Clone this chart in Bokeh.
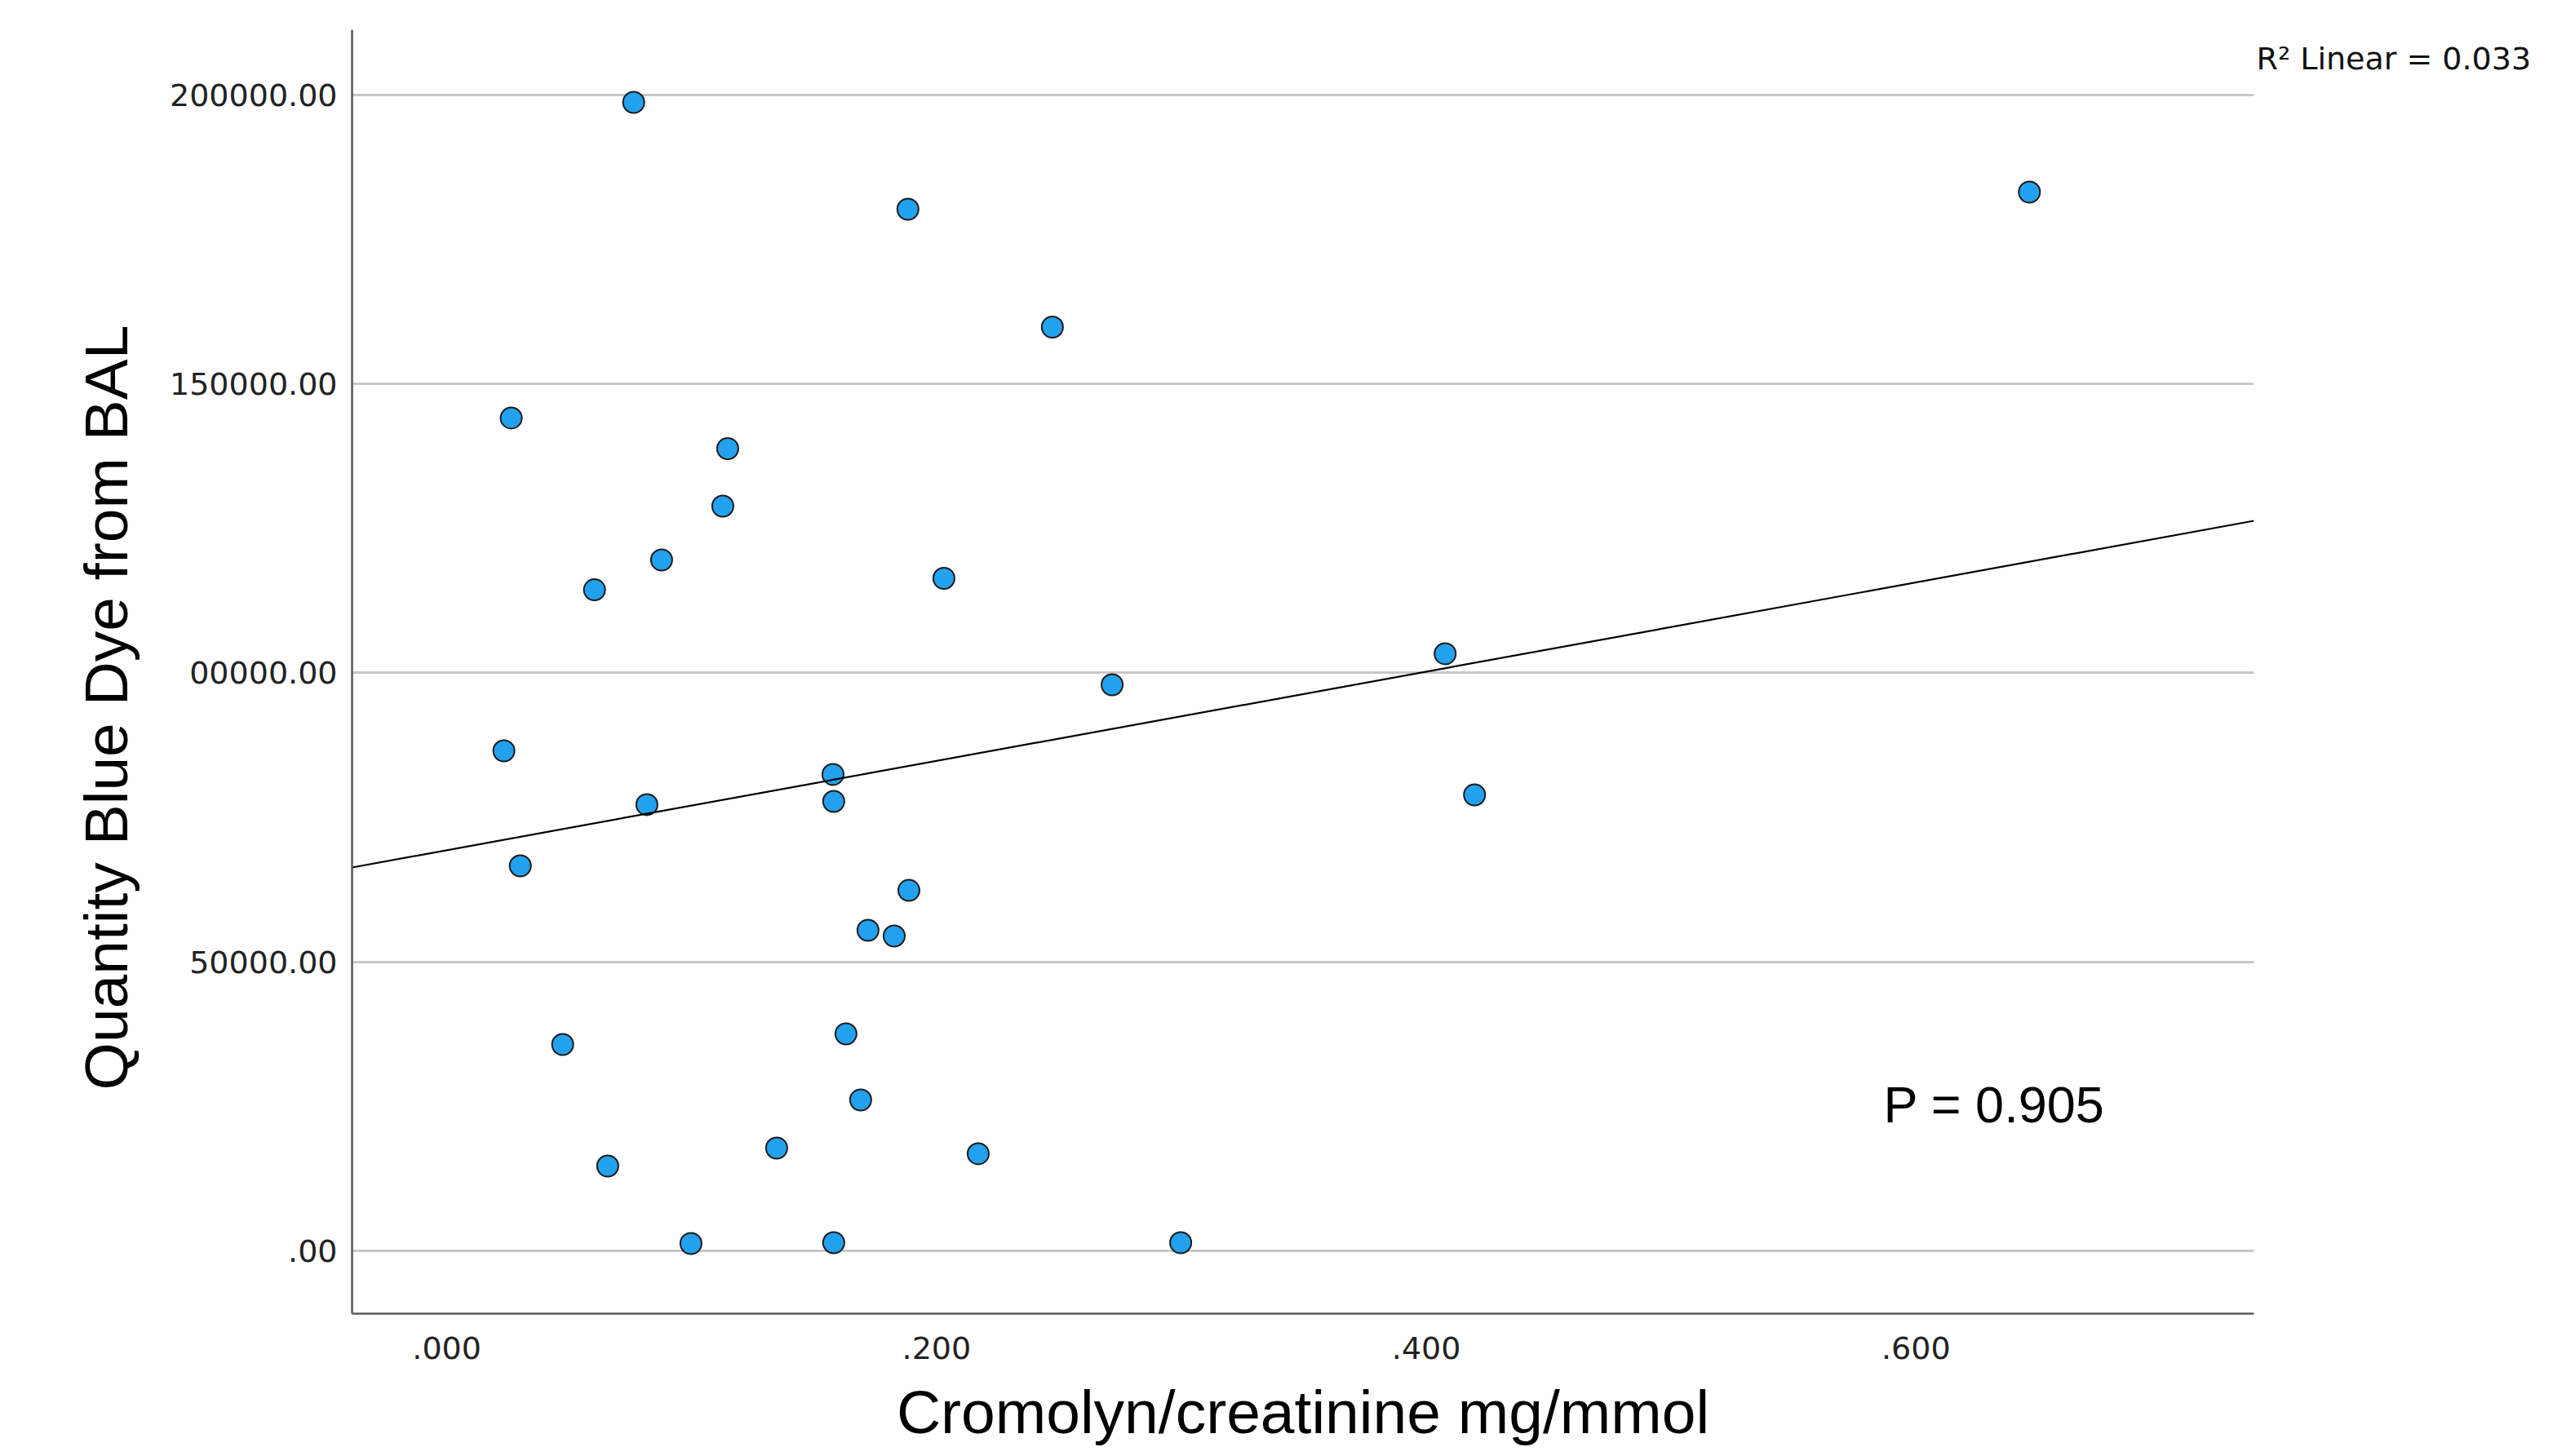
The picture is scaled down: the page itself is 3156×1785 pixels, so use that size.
from bokeh.plotting import figure
from bokeh.models import FixedTicker, Label, ColumnDataSource, LinearAxis
from bokeh.embed import file_html
from bokeh.resources import INLINE

# ---- data ----
cromolyn = [0.0763, 0.1883, 0.2473, 0.6463, 0.0263, 0.1147, 0.1127, 0.0877, 0.0603, 0.2030,
            0.4077, 0.2717, 0.0233, 0.1577, 0.1580, 0.0817, 0.4197, 0.0300, 0.1887, 0.1720,
            0.1827, 0.0473, 0.1630, 0.1690, 0.1347, 0.0657, 0.2170, 0.0997, 0.1580, 0.2997]
blue_dye = [198730, 180240, 159840, 183200, 144110, 138810, 128860, 119550, 114380, 116370,
            103320, 97950, 86520, 82430, 77770, 77210, 78900, 66620, 62380, 55470,
            54480, 35710, 37540, 26110, 17780, 14680, 16800, 1270, 1410, 1410]

fit_intercept = 69330.0
fit_slope = 77225.0
r2_text = "R\u00b2 Linear = 0.033"
p_text = "P = 0.905"

y_ticks = [0, 50000, 100000, 150000, 200000]
y_tick_labels = [".00", "50000.00", "00000.00", "150000.00", "200000.00"]
x_ticks = [0.0, 0.2, 0.4, 0.6]
x_tick_labels = [".000", ".200", ".400", ".600"]

x_title = "Cromolyn/creatinine mg/mmol"
y_title = "Quantity Blue Dye from BAL"

# anchor values (data units) for text placed beside the frame
y_title_at = 94000
r2_at = 206210

# ---- figure ----
x_start, x_end = -0.0387, 0.738
p = figure(width=3156, height=1785, output_backend="svg", toolbar_location=None,
           x_range=(x_start, x_end), y_range=(-10870, 211290),
           min_border_left=431, min_border_right=394, min_border_top=36, min_border_bottom=175)
p.outline_line_color = None
p.background_fill_color = "white"
p.border_fill_color = "white"

p.xgrid.visible = False
p.ygrid.grid_line_color = "#c8c8c8"
p.ygrid.grid_line_width = 3


def style(ax):
    ax.axis_line_color = "#595959"
    ax.axis_line_width = 2.5
    ax.major_tick_in = 0
    ax.major_tick_out = 0
    ax.minor_tick_in = 0
    ax.minor_tick_out = 0
    ax.major_label_text_font = "DejaVu Sans"
    ax.major_label_text_font_size = "38px"
    ax.major_label_text_color = "#222222"
    ax.axis_label_text_font = "Liberation Sans"
    ax.axis_label_text_font_size = "75px"
    ax.axis_label_text_font_style = "normal"
    ax.axis_label_text_color = "black"


xa = p.xaxis[0]
ya = p.yaxis[0]
style(xa)
style(ya)

ya.ticker = FixedTicker(ticks=y_ticks)
ya.major_label_overrides = {t: l for t, l in zip(y_ticks, y_tick_labels)}
xa.ticker = FixedTicker(ticks=x_ticks)
xa.major_label_overrides = {t: l for t, l in zip(x_ticks, x_tick_labels)}
ya.major_label_standoff = 18
xa.major_label_standoff = 28
xa.axis_label = x_title
xa.axis_label_standoff = 20

# y title (sits a bit below the frame centre in the reference)
yt = LinearAxis(ticker=FixedTicker(ticks=[y_title_at]),
                major_label_overrides={y_title_at: y_title})
style(yt)
yt.axis_line_color = None
yt.major_label_orientation = "vertical"
yt.major_label_text_font = "Liberation Sans"
yt.major_label_text_font_size = "75px"
yt.major_label_text_color = "black"
yt.major_label_standoff = 33
p.add_layout(yt, "left")

# R² note at the top right, outside the frame
r2 = LinearAxis(ticker=FixedTicker(ticks=[r2_at]),
                major_label_overrides={r2_at: r2_text})
style(r2)
r2.axis_line_color = None
r2.major_label_text_color = "#111111"
r2.major_label_standoff = 3
p.add_layout(r2, "right")

src = ColumnDataSource(dict(x=cromolyn, y=blue_dye))
p.scatter("x", "y", source=src, marker="circle", size=26,
          fill_color="#22a2ee", line_color="#1b1b1b", line_width=2)

fx = [x_start, x_end]
fy = [fit_intercept + fit_slope * v for v in fx]
p.line(fx, fy, line_color="black", line_width=2.2)

p.add_layout(Label(x=0.5867, y=25400, text=p_text, text_font="Liberation Sans",
                   text_font_size="63px", text_color="black", text_baseline="alphabetic"))

open("out.html", "w").write(file_html(p, INLINE))
